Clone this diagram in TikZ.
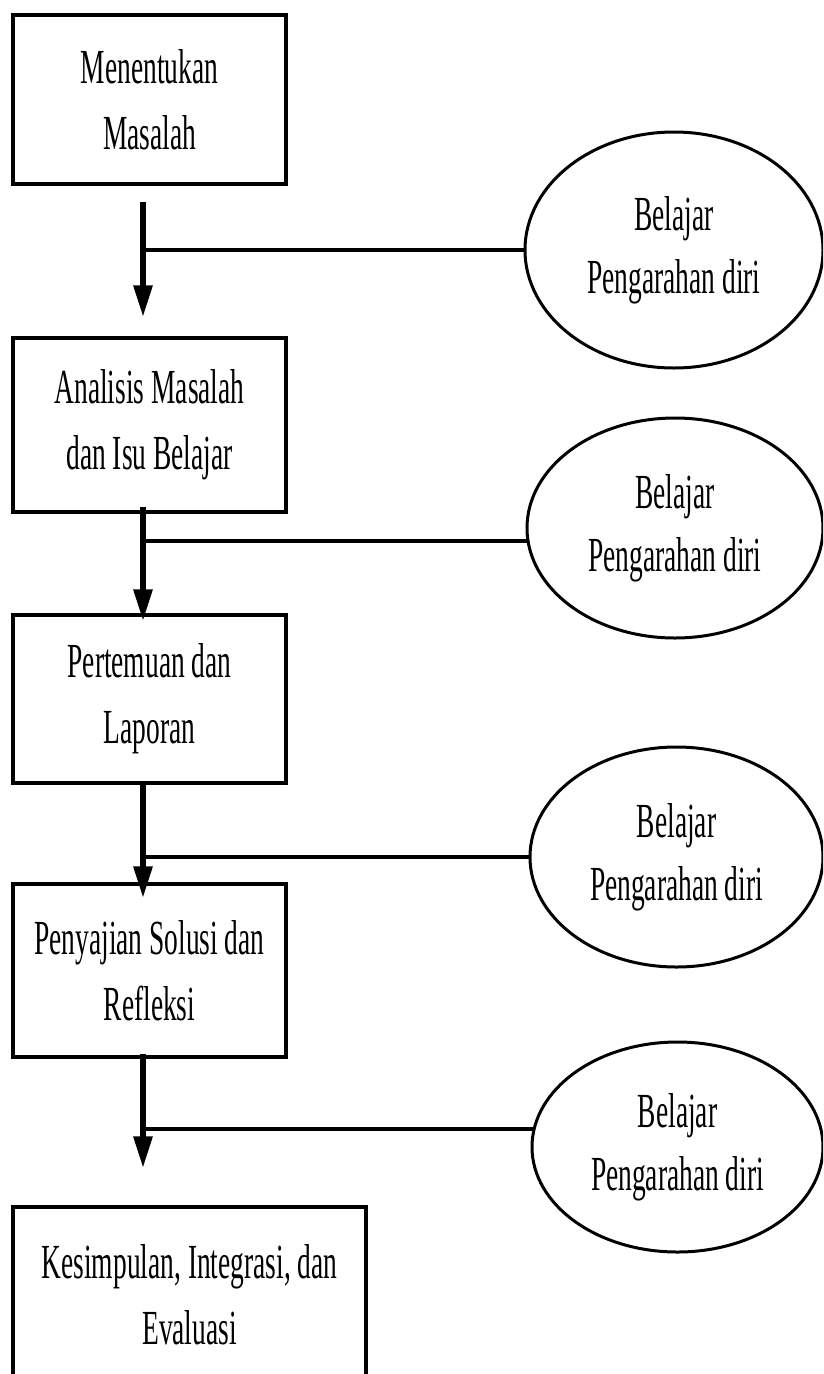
\documentclass[tikz,border=0pt]{standalone}
\usepackage{fontspec}
\setmainfont{Liberation Serif}[FakeStretch=0.56]
\usetikzlibrary{arrows.meta,shapes.geometric}
\newcommand\bxfont{\fontsize{49}{66}\selectfont}
\newcommand\elfont{\fontsize{49}{63}\selectfont}
\begin{document}
\begin{tikzpicture}[x=1pt,y=-1pt,
  box/.style={draw, line width=3.5pt, minimum width=273pt, inner sep=0pt, align=center, font=\bxfont},
  bubble/.style={ellipse, draw, line width=3pt, inner sep=0pt, align=center, font=\elfont},
  flow/.style={line width=6pt, -{Triangle[length=32pt,width=18pt]}},
  branch/.style={line width=4pt}]
\useasboundingbox (0,0) rectangle (823,1374);
\fill[white] (0,0) rectangle (823,1374);
\clip (0,0) rectangle (823,1374);

% process boxes
\node[box, minimum height=169pt] (b1) at (149.5,99.5) {Menentukan\\Masalah};
\node[box, minimum height=174pt] (b2) at (149.5,425) {Analisis Masalah\\dan Isu Belajar};
\node[box, minimum height=168pt] (b3) at (149.5,699) {Pertemuan dan\\Laporan};
\node[box, minimum height=173pt] (b4) at (149.5,970.5) {Penyajian Solusi dan\\Refleksi};
\node[box, minimum width=353pt, minimum height=176pt] (b5) at (189.5,1295) {Kesimpulan, Integrasi, dan\\Evaluasi};

% self-directed learning ellipses
\node[bubble, minimum width=298pt, minimum height=236pt] (e1) at (674,250) {Belajar\\Pengarahan diri};
\node[bubble, minimum width=296pt, minimum height=220pt] (e2) at (675,528) {Belajar\\Pengarahan diri};
\node[bubble, minimum width=293pt, minimum height=220pt] (e3) at (676.5,857) {Belajar\\Pengarahan diri};
\node[bubble, minimum width=291pt, minimum height=210pt] (e4) at (677.5,1147) {Belajar\\Pengarahan diri};

% arrow end points
\coordinate (a1s) at ([xshift=-6.5pt,yshift=-16pt]b1.south);
\coordinate (a1e) at ([xshift=-6.5pt,yshift=19pt]b2.north);
\coordinate (a2s) at ([xshift=-6.5pt,yshift=7pt]b2.south);
\coordinate (a2e) at ([xshift=-6.5pt,yshift=-8pt]b3.north);
\coordinate (a3s) at ([xshift=-6.5pt]b3.south);
\coordinate (a3e) at ([xshift=-6.5pt,yshift=-16pt]b4.north);
\coordinate (a4s) at ([xshift=-6.5pt,yshift=5pt]b4.south);
\coordinate (t5) at ([yshift=37pt]b5.north);
\coordinate (a4e) at (t5 -| a4s);

% flow arrows
\draw[flow] (a1s) -- (a1e);
\draw[flow] (a2s) -- (a2e);
\draw[flow] (a3s) -- (a3e);
\draw[flow] (a4s) -- (a4e);

% branches to ellipses
\draw[branch] (e1.west) -- (e1.west -| a1s);
\draw[branch] (e2.185) -- (e2.185 -| a2s);
\draw[branch] (e3.west) -- (e3.west -| a3s);
\draw[branch] (e4.173) -- (e4.173 -| a4s);
\end{tikzpicture}
\end{document}
